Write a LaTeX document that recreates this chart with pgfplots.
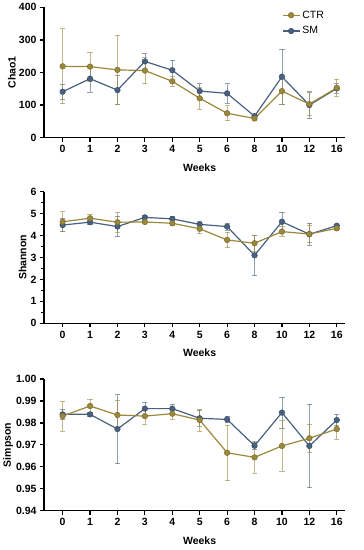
\documentclass[border=0pt]{standalone}
\usepackage{fontspec}
\setmainfont{Liberation Sans}
\usepackage{pgfplots}
\usepackage{pgfplotstable}
\pgfplotsset{compat=1.18}
\definecolor{ctr}{RGB}{155,136,58}
\definecolor{sm}{RGB}{72,97,128}

\pgfplotstableread{
x ctr ctre sm sme
0 219 115 141 22
1 218 45 181 42
2 208 107 146 44
3 206 40 234 24
4 173 15 207 30
5 121 34 143 23
6 75 23 136 30
7 59 5 66 5
8 143 40 187 84
9 103 35 100 41
10 153 26 151 15
}\chao

\pgfplotstableread{
x ctr ctre sm sme
0 4.63 0.46 4.48 0.30
1 4.79 0.20 4.61 0.10
2 4.61 0.45 4.41 0.46
3 4.62 0.08 4.83 0.08
4 4.56 0.10 4.76 0.10
5 4.31 0.22 4.51 0.12
6 3.80 0.35 4.41 0.15
7 3.65 0.37 3.10 0.93
8 4.18 0.22 4.63 0.43
9 4.07 0.40 4.06 0.50
10 4.33 0.10 4.45 0.08
}\shannon

\pgfplotstableread{
x ctr ctre sm sme
0 0.9831 0.0068 0.9839 0.0024
1 0.9877 0.0030 0.9839 0.0010
2 0.9836 0.0065 0.9772 0.0157
3 0.9831 0.0038 0.9865 0.0030
4 0.9842 0.0025 0.9865 0.0020
5 0.9813 0.0050 0.9821 0.0036
6 0.9664 0.0127 0.9816 0.0015
7 0.9643 0.0073 0.9696 0.0015
8 0.9695 0.0116 0.9847 0.0070
9 0.9730 0.0064 0.9695 0.0190
10 0.9772 0.0045 0.9813 0.0026
}\simpson

\pgfplotsset{
  panel/.style={
    scale only axis,
    width=301pt,
    xmin=-0.68, xmax=10.3,
    axis lines*=left,
    axis line style={line width=1.3pt, -},
    tick style={line width=1.2pt, black},
    major tick length=4pt,
    minor tick length=2.5pt,
    tick align=outside,
    xtick={0,...,10},
    xticklabels={0,1,2,3,4,5,6,8,10,12,16},
    tick label style={font=\bfseries\fontsize{10.5}{12}\selectfont},
    label style={font=\bfseries\fontsize{10.5}{12}\selectfont},
    xlabel={Weeks},
    /pgf/number format/assume math mode=true,
    clip=false,
  },
  ser/.style={color=#1, line width=1.2pt, mark=*, mark size=2.8pt,
    mark options={fill=#1, draw=#1!80!black, line width=0.5pt},
    error bars/.cd, y dir=both, y explicit,
    error bar style={color=#1, opacity=0.6, line width=0.7pt},
    error mark options={rotate=90, mark size=2.6pt, line width=0.7pt, opacity=0.6}},
}

\begin{document}
\begin{tikzpicture}
\path[use as bounding box] (0,0) rectangle (364pt,550pt);

% Chao1
\begin{axis}[panel, at={(44pt,412.3pt)}, anchor=south west, height=130.4pt,
  ymin=0, ymax=400, ytick={0,100,200,300,400},
  ylabel={Chao1},
  ylabel style={at={(axis description cs:-0.107,0.5)}, anchor=center},
  xlabel style={at={(axis description cs:0.517,-0.23)}, anchor=center},
  reverse legend,
  legend style={draw=none, fill=none, at={(axis description cs:0.79,0.99)}, anchor=north west,
    font=\fontsize{10.5}{12}\selectfont, row sep=3pt, inner sep=0pt},
  legend cell align=left,
]
\addplot[ser=sm] table[x=x, y=sm, y error=sme] {\chao};
\addplot[ser=ctr] table[x=x, y=ctr, y error=ctre] {\chao};
\legend{SM,CTR}
\end{axis}

% Shannon
\begin{axis}[panel, at={(44pt,226.7pt)}, anchor=south west, height=131.6pt,
  ymin=0, ymax=6, ytick={0,...,6}, minor ytick={0.5,1.5,...,5.5},
  ylabel={Shannon},
  ylabel style={at={(axis description cs:-0.071,0.5)}, anchor=center},
  xlabel style={at={(axis description cs:0.517,-0.226)}, anchor=center},
]
\addplot[ser=sm] table[x=x, y=sm, y error=sme] {\shannon};
\addplot[ser=ctr] table[x=x, y=ctr, y error=ctre] {\shannon};
\end{axis}

% Simpson
\begin{axis}[panel, at={(44pt,39.3pt)}, anchor=south west, height=131.7pt,
  ymin=0.94, ymax=1.00, ytick={0.94,0.95,...,1.001},
  yticklabel style={/pgf/number format/.cd, fixed, fixed zerofill, precision=2},
  ylabel={Simpson},
  ylabel style={at={(axis description cs:-0.119,0.5)}, anchor=center},
  xlabel style={at={(axis description cs:0.517,-0.228)}, anchor=center},
]
\addplot[ser=sm] table[x=x, y=sm, y error=sme] {\simpson};
\addplot[ser=ctr] table[x=x, y=ctr, y error=ctre] {\simpson};
\end{axis}
\end{tikzpicture}
\end{document}
